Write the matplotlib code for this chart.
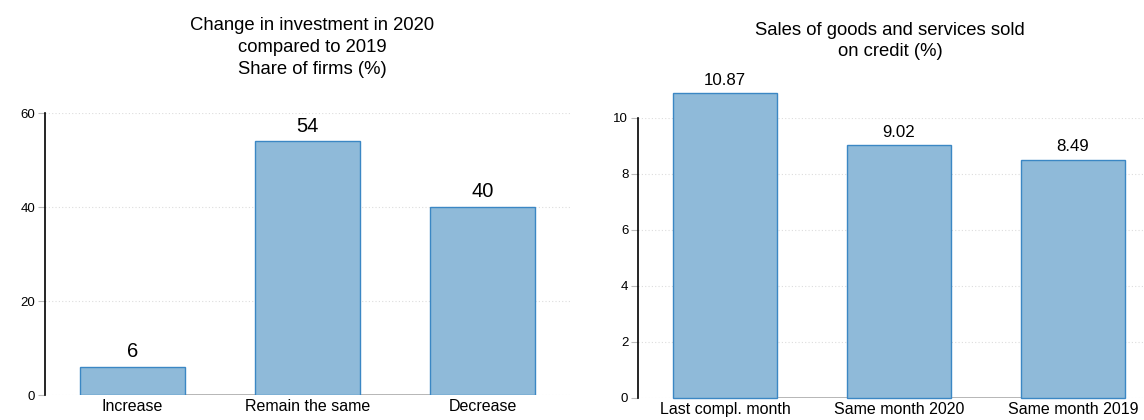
import matplotlib.pyplot as plt

plt.rcParams["font.family"] = ["Liberation Sans", "DejaVu Sans"]

# left panel: change in investment
inv_labels = ["Increase", "Remain the same", "Decrease"]
inv_values = [6, 54, 40]

# right panel: sales on credit
credit_labels = ["Last compl. month", "Same month 2020", "Same month 2019"]
credit_values = [10.87, 9.02, 8.49]

BAR_COLOR = "#8fbad9"
EDGE_COLOR = "#3b87c4"
W, H = 1144, 420


def px_axes(fig, left, right, bottom, top):
    return fig.add_axes([left / W, 1 - bottom / H, (right - left) / W, (bottom - top) / H])


def style_axes(ax, ticks, top_tick):
    for s in ["top", "right", "bottom"]:
        ax.spines[s].set_visible(False)
    ax.spines["left"].set_bounds(0, top_tick)
    ax.spines["left"].set_linewidth(1.2)
    ax.set_yticks(ticks)
    ax.tick_params(axis="y", length=5, color="#bbbbbb", labelsize=9.5, pad=2)
    ax.tick_params(axis="x", length=0, labelsize=11.5, pad=3)
    for t in ticks:
        ax.axhline(t, color="#dddddd", lw=0.8, ls=(0, (1, 2)), zorder=0)


fig = plt.figure(figsize=(W / 100, H / 100), dpi=100)

# left chart
ax1 = px_axes(fig, 45, 570, 395, 113)
x1 = range(len(inv_values))
ax1.bar(x1, inv_values, width=0.6, color=BAR_COLOR, edgecolor=EDGE_COLOR, lw=1, zorder=2)
ax1.plot([0, 2], [0, 0], color="#aaaaaa", lw=1.2, zorder=1)
ax1.set_xlim(-0.5, 2.5)
ax1.set_ylim(0, 60)
style_axes(ax1, [0, 20, 40, 60], 60)
ax1.set_xticks(list(x1))
ax1.set_xticklabels(inv_labels)
for i, v in enumerate(inv_values):
    ax1.text(i, v + 1.2, f"{v}", ha="center", va="bottom", fontsize=14.5)
fig.text(312 / W, 1 - 47.5 / H,
         "Change in investment in 2020\ncompared to 2019\nShare of firms (%)",
         ha="center", va="center", fontsize=13.3, linespacing=1.37)

# right chart
ax2 = px_axes(fig, 638, 1144, 398, 117.7)
x2 = range(len(credit_values))
ax2.bar(x2, credit_values, width=0.6, color=BAR_COLOR, edgecolor=EDGE_COLOR, lw=1,
        zorder=2, clip_on=False)
ax2.plot([0, 2], [0, 0], color="#aaaaaa", lw=1.2, zorder=1)
ax2.set_xlim(-0.5, -0.5 + (1144 - 638) / 174)
ax2.set_ylim(0, 10)
style_axes(ax2, [0, 2, 4, 6, 8, 10], 10)
ax2.set_xticks(list(x2))
ax2.set_xticklabels(credit_labels)
for i, v in enumerate(credit_values):
    ax2.text(i, v + 0.2, f"{v:.2f}", ha="center", va="bottom", fontsize=12.2,
             clip_on=False)
fig.text(890 / W, 1 - 41 / H, "Sales of goods and services sold\non credit (%)",
         ha="center", va="center", fontsize=13.3, linespacing=1.37)

fig.savefig("out.png", dpi=100)
